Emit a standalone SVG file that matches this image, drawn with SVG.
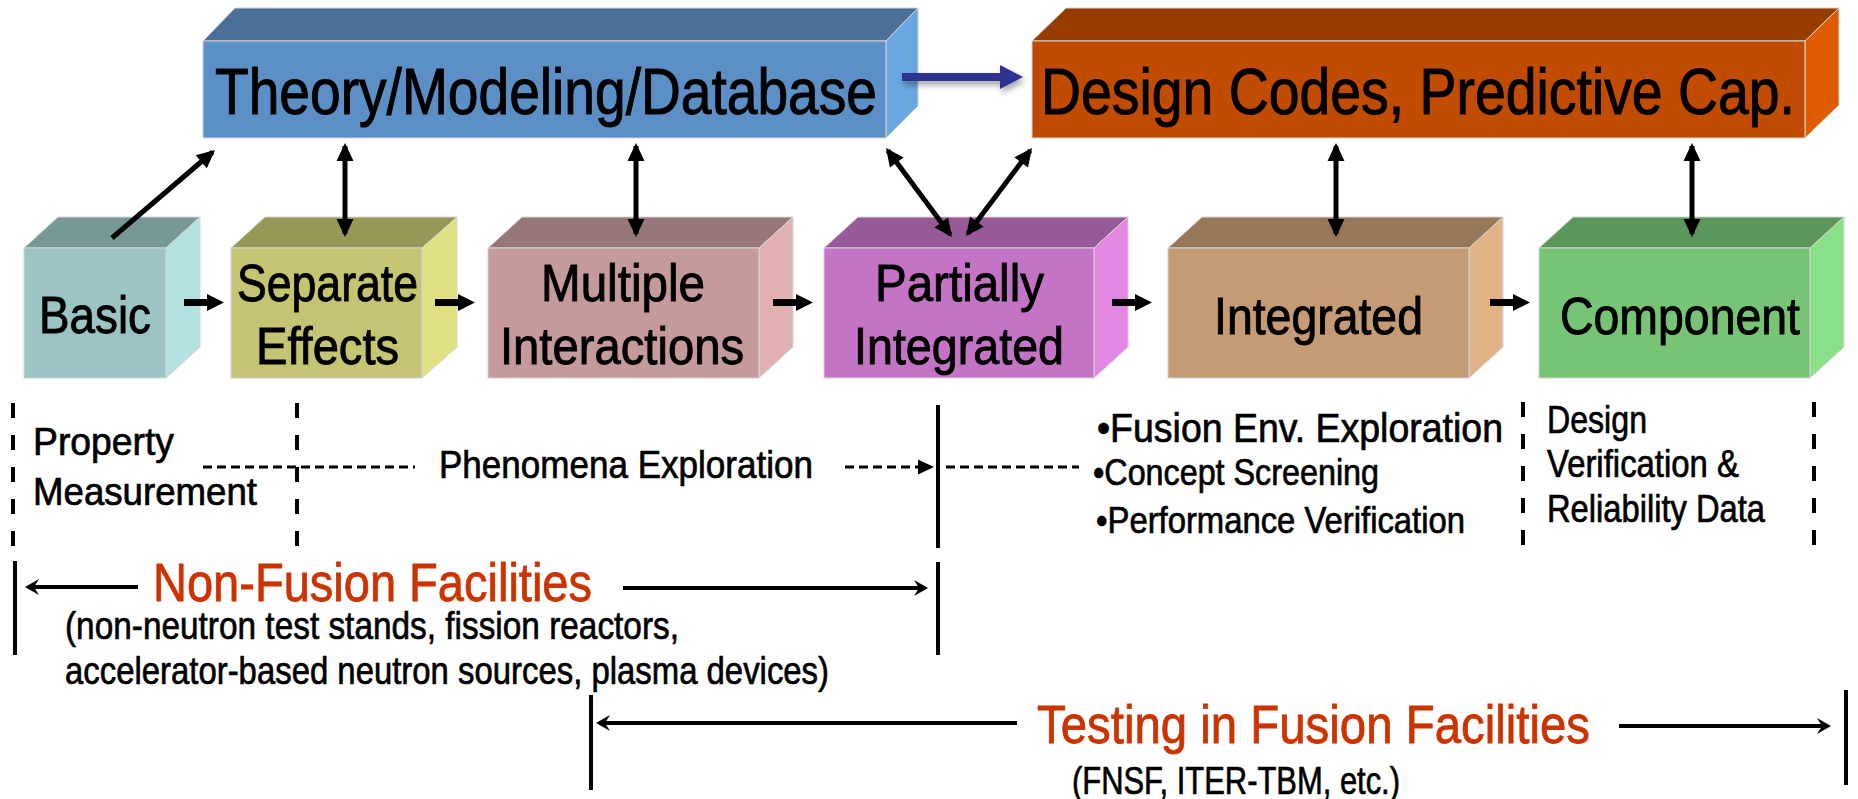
<svg xmlns="http://www.w3.org/2000/svg" xmlns:xlink="http://www.w3.org/1999/xlink" width="1858" height="799" viewBox="0 0 1858 799">
<style>
text{font-family:"Liberation Sans Narrow","Arial Narrow","Liberation Sans",Arial,sans-serif;fill:#000;stroke:#000;stroke-width:0.8}
.big{font-size:65px;stroke-width:1}
.box{font-size:52px;stroke-width:0.9}
.lab{font-size:39px;stroke-width:0.7}
.sm{stroke-width:0.7}
.red{fill:#cc3300;stroke:#cc3300;font-size:54px;stroke-width:0.8}
.face{stroke:#d4d4d4;stroke-width:1}
.arr{fill:none;stroke:#000;stroke-width:5}
.arr2{fill:none;stroke:#000;stroke-width:4}
.dashv{fill:none;stroke:#000;stroke-width:4;stroke-dasharray:15 17}
.dashh{fill:none;stroke:#000;stroke-width:3;stroke-dasharray:9 5}
.solid{fill:none;stroke:#000;stroke-width:4}
</style>
<defs>
<marker id="tri" viewBox="-19 -9 20 18" markerWidth="20" markerHeight="18" refX="-3" refY="0" orient="auto-start-reverse" markerUnits="userSpaceOnUse">
<path d="M0,0 L-18,-8.5 L-18,8.5 Z" fill="#000"/>
</marker>
<marker id="stealth" viewBox="-16 -9 17 18" markerWidth="17" markerHeight="18" refX="-3" refY="0" orient="auto-start-reverse" markerUnits="userSpaceOnUse">
<path d="M0,0 L-14,-8 L-9,0 L-14,8 Z" fill="#000"/>
</marker>
<path id="blk" d="M0,-3.5 H23 V-8.5 L40,0 L23,8.5 V3.5 H0 Z" fill="#000"/>
<filter id="sh" x="-10%" y="-50%" width="130%" height="250%">
<feDropShadow dx="2" dy="4" stdDeviation="3" flood-color="#000" flood-opacity="0.35"/>
</filter>
</defs>

<g id="theory">
<polygon class="face" points="203,41 235,8 918,8 886,41" fill="#4a6f99"/>
<polygon class="face" points="886,41 918,8 918,106 886,138" fill="#6aa6e0"/>
<rect class="face" x="203" y="41" width="683" height="97" fill="#5b8fc6"/>
<text class="big" x="215" y="114" textLength="662" lengthAdjust="spacingAndGlyphs">Theory/Modeling/Database</text>
</g>

<g id="design">
<polygon class="face" points="1032,41 1066,8 1839,8 1805,41" fill="#983b00"/>
<polygon class="face" points="1805,41 1839,8 1839,105 1805,138" fill="#e05a00"/>
<rect class="face" x="1032" y="41" width="773" height="97" fill="#c14c00"/>
<text class="big" x="1041" y="114" textLength="754" lengthAdjust="spacingAndGlyphs">Design Codes, Predictive Cap.</text>
</g>

<g id="basic">
<polygon class="face" points="24,248 58,217 200,217 166,248" fill="#789898"/>
<polygon class="face" points="166,248 200,217 200,347 166,378" fill="#b3e1e1"/>
<rect class="face" x="24" y="248" width="142" height="130" fill="#9cc4c4"/>
<text class="box" x="39" y="333" textLength="112" lengthAdjust="spacingAndGlyphs">Basic</text>
</g>

<g id="separate">
<polygon class="face" points="231,248 265,217 457,217 422,248" fill="#979757"/>
<polygon class="face" points="422,248 457,217 457,347 422,378" fill="#e1e184"/>
<rect class="face" x="231" y="248" width="191" height="130" fill="#c4c473"/>
<text class="box" x="237" y="301" textLength="181" lengthAdjust="spacingAndGlyphs">Separate</text>
<text class="box" x="256" y="364" textLength="143" lengthAdjust="spacingAndGlyphs">Effects</text>
</g>

<g id="multiple">
<polygon class="face" points="488,248 522,217 793,217 759,248" fill="#977777"/>
<polygon class="face" points="759,248 793,217 793,347 759,378" fill="#e1b1b1"/>
<rect class="face" x="488" y="248" width="271" height="130" fill="#c49a9a"/>
<text class="box" x="541" y="301" textLength="164" lengthAdjust="spacingAndGlyphs">Multiple</text>
<text class="box" x="500" y="364" textLength="244" lengthAdjust="spacingAndGlyphs">Interactions</text>
</g>

<g id="partially">
<polygon class="face" points="824,248 858,217 1128,217 1094,248" fill="#975997"/>
<polygon class="face" points="1094,248 1128,217 1128,347 1094,378" fill="#e186e1"/>
<rect class="face" x="824" y="248" width="270" height="130" fill="#c474c4"/>
<text class="box" x="875" y="301" textLength="169" lengthAdjust="spacingAndGlyphs">Partially</text>
<text class="box" x="854" y="364" textLength="210" lengthAdjust="spacingAndGlyphs">Integrated</text>
</g>

<g id="integrated">
<polygon class="face" points="1168,248 1202,217 1503,217 1469,248" fill="#977859"/>
<polygon class="face" points="1469,248 1503,217 1503,347 1469,378" fill="#e1b286"/>
<rect class="face" x="1168" y="248" width="301" height="130" fill="#c49b74"/>
<text class="box" x="1214" y="334" textLength="209" lengthAdjust="spacingAndGlyphs">Integrated</text>
</g>

<g id="component">
<polygon class="face" points="1539,248 1573,217 1844,217 1810,248" fill="#5b975b"/>
<polygon class="face" points="1810,248 1844,217 1844,347 1810,378" fill="#88e188"/>
<rect class="face" x="1539" y="248" width="271" height="130" fill="#77c477"/>
<text class="box" x="1560" y="334" textLength="240" lengthAdjust="spacingAndGlyphs">Component</text>
</g>

<g id="connectors">
<path d="M902,73 H1000 V65 L1023,77 L1000,89 V81 H902 Z" fill="#2e3192" filter="url(#sh)"/>
<use xlink:href="#blk" x="184" y="302.5"/>
<use xlink:href="#blk" x="435" y="302.5"/>
<use xlink:href="#blk" x="773" y="302.5"/>
<use xlink:href="#blk" x="1112" y="302.5"/>
<use xlink:href="#blk" x="1490" y="302.5"/>
<path class="arr" d="M112,238 L212.7,152" marker-end="url(#tri)"/>
<path class="arr" d="M345,146 V234" marker-start="url(#tri)" marker-end="url(#tri)"/>
<path class="arr" d="M636,146 V234" marker-start="url(#tri)" marker-end="url(#tri)"/>
<path class="arr" d="M1336,146 V234" marker-start="url(#tri)" marker-end="url(#tri)"/>
<path class="arr" d="M1692,146 V234" marker-start="url(#tri)" marker-end="url(#tri)"/>
<path class="arr" d="M887.8,150.4 L950.2,234.6" marker-start="url(#tri)" marker-end="url(#tri)"/>
<path class="arr" d="M967.8,233.6 L1030.2,150.4" marker-start="url(#tri)" marker-end="url(#tri)"/>
</g>

<g id="lines">
<path class="dashv" d="M13,403 V549"/>
<path class="dashv" d="M297,403 V549"/>
<path class="dashv" d="M1523,402 V549"/>
<path class="dashv" d="M1814,402 V549"/>
<path class="solid" d="M938,405 V548"/>
<path class="solid" d="M938,562 V655"/>
<path class="solid" d="M15,561 V655"/>
<path class="solid" d="M591,695 V790"/>
<path class="solid" d="M1846,690 V785"/>
<path class="dashh" d="M203,467 H415"/>
<path class="dashh" d="M845,467 H918"/>
<polygon points="918,459.5 934,467 918,474.5" fill="#000"/>
<path class="dashh" d="M946,467 H1079"/>
<path class="arr2" d="M138,587 H28" marker-end="url(#stealth)"/>
<path class="arr2" d="M623,588 H925" marker-end="url(#stealth)"/>
<path class="arr2" d="M1017,723 H599" marker-end="url(#stealth)"/>
<path class="arr2" d="M1619,726 H1828" marker-end="url(#stealth)"/>
</g>

<g id="labels">
<text class="lab" x="33" y="455" textLength="141" lengthAdjust="spacingAndGlyphs">Property</text>
<text class="lab" x="33" y="505" textLength="224" lengthAdjust="spacingAndGlyphs">Measurement</text>
<text class="lab" x="439" y="478" textLength="374" lengthAdjust="spacingAndGlyphs">Phenomena Exploration</text>
<text class="sm" x="1097" y="442" font-size="41" textLength="406" lengthAdjust="spacingAndGlyphs">•Fusion Env. Exploration</text>
<text class="sm" x="1093" y="485" font-size="37" textLength="286" lengthAdjust="spacingAndGlyphs">•Concept Screening</text>
<text class="sm" x="1096" y="533" font-size="37" textLength="369" lengthAdjust="spacingAndGlyphs">•Performance Verification</text>
<text class="sm" x="1547" y="433" font-size="38" textLength="100" lengthAdjust="spacingAndGlyphs">Design</text>
<text class="sm" x="1547" y="477" font-size="38" textLength="192" lengthAdjust="spacingAndGlyphs">Verification &amp;</text>
<text class="sm" x="1547" y="522" font-size="38" textLength="218" lengthAdjust="spacingAndGlyphs">Reliability Data</text>
<text class="red" x="153" y="601" font-size="51" textLength="439" lengthAdjust="spacingAndGlyphs">Non-Fusion Facilities</text>
<text class="lab" x="65" y="639" textLength="614" lengthAdjust="spacingAndGlyphs">(non-neutron test stands, fission reactors,</text>
<text class="lab" x="65" y="684" textLength="764" lengthAdjust="spacingAndGlyphs">accelerator-based neutron sources, plasma devices)</text>
<text class="red" x="1037" y="743" textLength="553" lengthAdjust="spacingAndGlyphs">Testing in Fusion Facilities</text>
<text class="lab" x="1072" y="794" textLength="328" lengthAdjust="spacingAndGlyphs">(FNSF, ITER-TBM, etc.)</text>
</g>
</svg>
